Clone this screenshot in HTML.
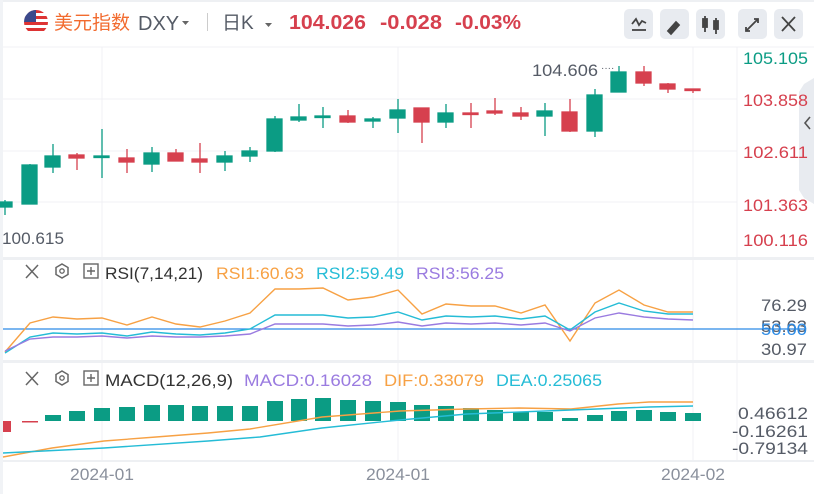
<!DOCTYPE html>
<html><head><meta charset="utf-8"><style>
html,body{margin:0;padding:0;background:#fff;}
body{width:814px;height:494px;overflow:hidden;font-family:"Liberation Sans","Noto Sans CJK SC",sans-serif;}
</style></head><body>
<svg width="814" height="494" viewBox="0 0 814 494" xmlns="http://www.w3.org/2000/svg" font-family="Liberation Sans, Noto Sans CJK SC, sans-serif">
<rect width="814" height="494" fill="#fff"/>
<rect x="0" y="0" width="814" height="2" fill="#eef0f3"/>
<rect x="0" y="0" width="3" height="494" fill="#f1f3f6"/>
<defs><clipPath id="fc"><circle cx="36" cy="22" r="12"/></clipPath></defs>
<g clip-path="url(#fc)">
<rect x="24" y="10" width="24" height="24" fill="#fff"/>
<rect x="24" y="10" width="24" height="3" fill="#d33"/>
<rect x="24" y="16" width="24" height="3" fill="#d33"/>
<rect x="24" y="22" width="24" height="3" fill="#d33"/>
<rect x="24" y="28" width="24" height="3" fill="#d33"/>
<rect x="24" y="10" width="12" height="12" fill="#3c4a8c"/>
</g>
<text x="54" y="29" font-size="19" fill="#f26b2f">美元指数</text>
<text x="138" y="30" font-size="20" fill="#555b66">DXY</text>
<path d="M182 21 l7 0 l-3.5 4z" fill="#666"/>
<rect x="207" y="13" width="1" height="18" fill="#ccc"/>
<text x="222" y="29" font-size="19" fill="#555b66">日K</text>
<path d="M265 23 l7 0 l-3.5 4z" fill="#666"/>
<text x="289" y="29" font-size="20" font-weight="bold" fill="#d6404e" textLength="77" lengthAdjust="spacingAndGlyphs">104.026</text>
<text x="380" y="29" font-size="20" font-weight="bold" fill="#d6404e" textLength="62" lengthAdjust="spacingAndGlyphs">-0.028</text>
<text x="455" y="29" font-size="20" font-weight="bold" fill="#d6404e" textLength="66" lengthAdjust="spacingAndGlyphs">-0.03%</text>
<g fill="#e8ebf0">
<rect x="624" y="9" width="29" height="30" rx="5"/><rect x="660" y="9" width="29" height="30" rx="5"/><rect x="696" y="9" width="29" height="30" rx="5"/><rect x="738" y="9" width="29" height="30" rx="5"/><rect x="774" y="9" width="29" height="30" rx="5"/>
</g>
<g stroke="#444" stroke-width="1.8" fill="none">
<path d="M632 24 l4 -5 l3 6 l3 -4 l4 2"/><path d="M632 30 h14"/>
<path d="M668 31 l8 -9 l3 3 l-8 9z" fill="#444"/>
<path d="M705 16 v16 M716 18 v16" /><rect x="703" y="19" width="4" height="8" fill="#444"/><rect x="714" y="21" width="4" height="8" fill="#444"/>
<path d="M746 31 l12 -12 M754 19 h4 v4 M746 27 v4 h4"/>
<path d="M782 17 l13 14 M795 17 l-13 14"/>
</g>
<g stroke="#f0f1f4" stroke-width="1">
<line x1="3" y1="47" x2="814" y2="47"/>
<line x1="3" y1="99" x2="737" y2="99"/><line x1="3" y1="151" x2="737" y2="151"/><line x1="3" y1="202" x2="737" y2="202"/>
<line x1="102" y1="47" x2="102" y2="460"/><line x1="398" y1="47" x2="398" y2="460"/><line x1="693" y1="47" x2="693" y2="460"/>
<line x1="737" y1="47" x2="737" y2="460"/>
</g>
<rect x="3" y="257" width="811" height="3" fill="#eef0f3"/>
<rect x="3" y="360" width="811" height="3" fill="#eef0f3"/>
<rect x="3" y="460" width="811" height="2" fill="#eef0f3"/>
<path d="M814 78 L804 84 L799 92 L799 190 L804 198 L814 204 Z" fill="#e8ebf0"/>
<path d="M810 117 l-5 6 l5 6" stroke="#555" stroke-width="1.6" fill="none"/>
<g font-size="17" text-anchor="end">
<text x="808" y="64" fill="#0b9c84" textLength="65" lengthAdjust="spacingAndGlyphs">105.105</text>
<text x="808" y="106" fill="#d6404e" textLength="65" lengthAdjust="spacingAndGlyphs">103.858</text>
<text x="808" y="158" fill="#d6404e" textLength="65" lengthAdjust="spacingAndGlyphs">102.611</text>
<text x="808" y="211" fill="#d6404e" textLength="65" lengthAdjust="spacingAndGlyphs">101.363</text>
<text x="808" y="246" fill="#d6404e" textLength="65" lengthAdjust="spacingAndGlyphs">100.116</text>
</g>
<text x="532" y="76" font-size="17" fill="#555b66" textLength="66" lengthAdjust="spacingAndGlyphs">104.606</text>
<text x="601" y="71" font-size="10" fill="#555b66">····</text>
<text x="2" y="244" font-size="17" fill="#555b66" textLength="62" lengthAdjust="spacingAndGlyphs">100.615</text>
<g stroke-width="1.3">
<g stroke="#0b9c84" fill="#0b9c84">
<line x1="5" y1="200" x2="5" y2="215"/><rect x="-3" y="202" width="15" height="5"/>
<line x1="30" y1="164" x2="30" y2="204"/><rect x="22" y="165" width="15" height="39"/>
<line x1="53" y1="144" x2="53" y2="173"/><rect x="45" y="156" width="15" height="11"/>
<line x1="102" y1="129" x2="102" y2="178"/><rect x="94" y="156" width="15" height="1.5"/>
<line x1="152" y1="147" x2="152" y2="172"/><rect x="144" y="153" width="15" height="11"/>
<line x1="225" y1="151" x2="225" y2="171"/><rect x="217" y="156" width="15" height="6"/>
<line x1="250" y1="147" x2="250" y2="162"/><rect x="242" y="151" width="15" height="5"/>
<line x1="275" y1="116" x2="275" y2="152"/><rect x="267" y="119" width="15" height="32"/>
<line x1="299" y1="104" x2="299" y2="122"/><rect x="291" y="117" width="15" height="3"/>
<line x1="323" y1="107" x2="323" y2="128"/><rect x="315" y="116" width="15" height="1.5"/>
<line x1="373" y1="117" x2="373" y2="128"/><rect x="365" y="119" width="15" height="2"/>
<line x1="398" y1="99" x2="398" y2="133"/><rect x="390" y="110" width="15" height="8"/>
<line x1="446" y1="104" x2="446" y2="128"/><rect x="438" y="113" width="15" height="9"/>
<line x1="545" y1="103" x2="545" y2="136"/><rect x="537" y="111" width="15" height="5"/>
<line x1="595" y1="89" x2="595" y2="137"/><rect x="587" y="95" width="15" height="36"/>
<line x1="619" y1="66" x2="619" y2="92"/><rect x="611" y="72" width="15" height="20"/>
</g>
<g stroke="#d6404e" fill="#d6404e">
<line x1="77" y1="153" x2="77" y2="170"/><rect x="69" y="155" width="15" height="3"/>
<line x1="127" y1="149" x2="127" y2="173"/><rect x="119" y="158" width="15" height="4"/>
<line x1="176" y1="149" x2="176" y2="161"/><rect x="168" y="153" width="15" height="8"/>
<line x1="200" y1="143" x2="200" y2="173"/><rect x="192" y="159" width="15" height="3"/>
<line x1="348" y1="110" x2="348" y2="123"/><rect x="340" y="116" width="15" height="6"/>
<line x1="422" y1="108" x2="422" y2="143"/><rect x="414" y="108" width="15" height="14"/>
<line x1="471" y1="103" x2="471" y2="128"/><rect x="463" y="113" width="15" height="1.5"/>
<line x1="495" y1="98" x2="495" y2="115"/><rect x="487" y="111" width="15" height="2"/>
<line x1="521" y1="107" x2="521" y2="120"/><rect x="513" y="113" width="15" height="3"/>
<line x1="570" y1="99" x2="570" y2="132"/><rect x="562" y="112" width="15" height="19"/>
<line x1="644" y1="66" x2="644" y2="86"/><rect x="636" y="72" width="15" height="11"/>
<line x1="668" y1="83" x2="668" y2="93"/><rect x="660" y="84" width="15" height="5"/>
<line x1="693" y1="89" x2="693" y2="93"/><rect x="685" y="89" width="15" height="1.5"/>
</g>
</g>
<g font-size="17">
<path d="M26 265 l12 13 M38 265 l-12 13" stroke="#666" stroke-width="1.5"/>
<path d="M62 264 l6 3.5 v7 l-6 3.5 l-6 -3.5 v-7z" stroke="#666" stroke-width="1.5" fill="none"/><circle cx="62" cy="271" r="2.2" stroke="#666" stroke-width="1.3" fill="none"/>
<rect x="84" y="264" width="14" height="14" stroke="#666" stroke-width="1.4" fill="none"/><path d="M87 271 h8 M91 267 v8" stroke="#666" stroke-width="1.4"/>
<text x="105" y="279" fill="#333" textLength="98" lengthAdjust="spacingAndGlyphs">RSI(7,14,21)</text>
<text x="216" y="279" fill="#f7a144" textLength="88" lengthAdjust="spacingAndGlyphs">RSI1:60.63</text>
<text x="316" y="279" fill="#25bcd6" textLength="88" lengthAdjust="spacingAndGlyphs">RSI2:59.49</text>
<text x="416" y="279" fill="#9a7be0" textLength="88" lengthAdjust="spacingAndGlyphs">RSI3:56.25</text>
</g>
<line x1="3" y1="329" x2="806" y2="329" stroke="#2c8be6" stroke-width="1.3"/>
<g fill="none" stroke-width="1.4">
<polyline stroke="#f7a144" points="5,352 30,323 53,317 77,319 102,318 127,325 152,317 176,324 200,327 225,321 250,313 275,289 299,289 323,288 348,300 373,297 398,290 422,314 446,304 471,306 495,306 521,313 545,305 570,341 595,303 619,290 644,305 668,312 693,312"/>
<polyline stroke="#25bcd6" points="5,353 30,337 53,333 77,334 102,333 127,336 152,332 176,334 200,335 225,333 250,329 275,315 299,315 323,315 348,318 373,317 398,312 422,320 446,316 471,317 495,316 521,319 545,316 570,330 595,312 619,303 644,311 668,314 693,314"/>
<polyline stroke="#9a7be0" points="5,351 30,339 53,337 77,337 102,336 127,338 152,336 176,337 200,337 225,336 250,334 275,324 299,324 323,324 348,326 373,325 398,322 422,326 446,323 471,324 495,323 521,325 545,323 570,331 595,318 619,313 644,317 668,319 693,320"/>
</g>
<g font-size="17" text-anchor="end" fill="#555b66">
<text x="807" y="311" textLength="46" lengthAdjust="spacingAndGlyphs">76.29</text>
<text x="807" y="332" textLength="46" lengthAdjust="spacingAndGlyphs">53.63</text>
<text x="807" y="335" fill="#2c8be6" textLength="46" lengthAdjust="spacingAndGlyphs">50.00</text>
<text x="807" y="355" textLength="46" lengthAdjust="spacingAndGlyphs">30.97</text>
</g>
<g font-size="17">
<path d="M26 372 l12 13 M38 372 l-12 13" stroke="#666" stroke-width="1.5"/>
<path d="M62 371 l6 3.5 v7 l-6 3.5 l-6 -3.5 v-7z" stroke="#666" stroke-width="1.5" fill="none"/><circle cx="62" cy="378" r="2.2" stroke="#666" stroke-width="1.3" fill="none"/>
<rect x="84" y="371" width="14" height="14" stroke="#666" stroke-width="1.4" fill="none"/><path d="M87 378 h8 M91 374 v8" stroke="#666" stroke-width="1.4"/>
<text x="105" y="386" fill="#333" textLength="128" lengthAdjust="spacingAndGlyphs">MACD(12,26,9)</text>
<text x="244" y="386" fill="#9a7be0" textLength="128" lengthAdjust="spacingAndGlyphs">MACD:0.16028</text>
<text x="384" y="386" fill="#f7a144" textLength="100" lengthAdjust="spacingAndGlyphs">DIF:0.33079</text>
<text x="496" y="386" fill="#25bcd6" textLength="106" lengthAdjust="spacingAndGlyphs">DEA:0.25065</text>
</g>
<g fill="#0b9c84">
<rect x="45" y="415" width="16" height="6"/><rect x="69" y="411" width="16" height="10"/><rect x="94" y="408" width="16" height="13"/><rect x="119" y="407" width="16" height="14"/><rect x="144" y="405" width="16" height="16"/><rect x="168" y="405" width="16" height="16"/><rect x="192" y="406" width="16" height="15"/><rect x="217" y="406" width="16" height="15"/><rect x="242" y="406" width="16" height="15"/><rect x="267" y="401" width="16" height="20"/><rect x="291" y="399" width="16" height="22"/><rect x="315" y="398" width="16" height="23"/><rect x="340" y="400" width="16" height="21"/><rect x="365" y="401" width="16" height="20"/><rect x="390" y="402" width="16" height="19"/><rect x="414" y="405" width="16" height="16"/><rect x="438" y="406" width="16" height="15"/><rect x="463" y="408" width="16" height="13"/><rect x="487" y="410" width="16" height="11"/><rect x="513" y="412" width="16" height="9"/><rect x="537" y="412" width="16" height="9"/><rect x="562" y="418" width="16" height="3"/><rect x="587" y="415" width="16" height="6"/><rect x="611" y="411" width="16" height="10"/><rect x="636" y="410" width="16" height="11"/><rect x="660" y="412" width="16" height="9"/><rect x="685" y="413" width="16" height="8"/>
</g>
<g fill="#d6404e"><rect x="3" y="421" width="8" height="11"/><rect x="22" y="421" width="16" height="1.5"/></g>
<g fill="none" stroke-width="1.4">
<polyline stroke="#f7a144" points="3,457 52,448 104,441 156,437 208,433 250,429 322,417 400,411 467,409 519,408 571,409 618,404 649,402 693,402"/>
<polyline stroke="#25bcd6" points="3,453 104,448 208,441 260,437 322,428 400,420 467,414 545,411 597,409 649,407 693,406"/>
</g>
<g font-size="17" text-anchor="end" fill="#555b66">
<text x="808" y="419" textLength="70" lengthAdjust="spacingAndGlyphs">0.46612</text>
<text x="808" y="437" textLength="76" lengthAdjust="spacingAndGlyphs">-0.16261</text>
<text x="808" y="454" textLength="76" lengthAdjust="spacingAndGlyphs">-0.79134</text>
</g>
<g font-size="17" text-anchor="middle" fill="#8a909c">
<text x="102" y="480" textLength="64" lengthAdjust="spacingAndGlyphs">2024-01</text><text x="398" y="480" textLength="64" lengthAdjust="spacingAndGlyphs">2024-01</text><text x="693" y="480" textLength="64" lengthAdjust="spacingAndGlyphs">2024-02</text>
</g>
</svg>
</body></html>
